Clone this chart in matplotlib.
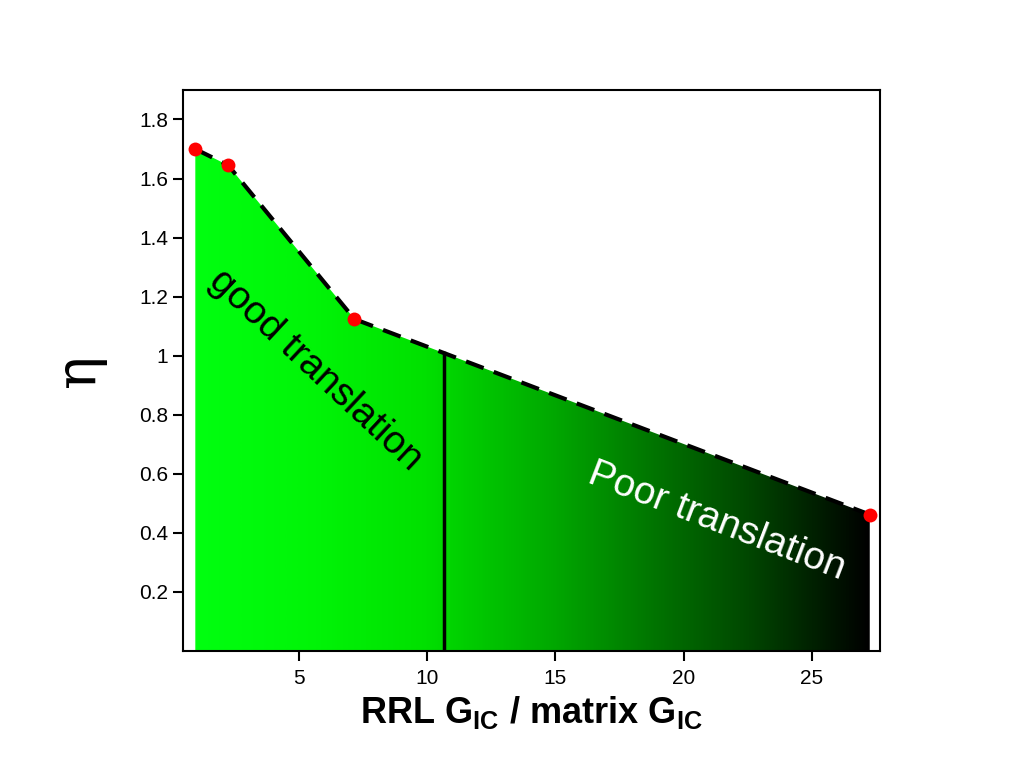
import numpy as np
import matplotlib
matplotlib.use("Agg")
import matplotlib.pyplot as plt
from matplotlib.colors import LinearSegmentedColormap

plt.rcParams['font.family'] = ['Liberation Sans', 'DejaVu Sans']
plt.rcParams['mathtext.fontset'] = 'custom'
plt.rcParams['mathtext.rm'] = 'Liberation Sans'
plt.rcParams['mathtext.bf'] = 'Liberation Sans:bold'

# Data
ratio = [0.98, 2.26, 7.18, 27.25]
eta = [1.70, 1.645, 1.124, 0.462]
boundary_x = 10.65
x_ticks = [5, 10, 15, 20, 25]
y_ticks = [0.2, 0.4, 0.6, 0.8, 1.0, 1.2, 1.4, 1.6, 1.8]
y_ticklabels = ['0.2', '0.4', '0.6', '0.8', '1', '1.2', '1.4', '1.6', '1.8']

fig = plt.figure(figsize=(10.24, 7.83), dpi=100)
ax = fig.add_axes([0.1787, 0.1686, 0.6807, 0.7165])
ax.set_xlim(0.5, 27.65)
ax.set_ylim(0, 1.9)

# gradient fill clipped by polygon
stops = [(0.0, (0, 1.0, 0.063)), (0.17, (0, 0.96, 0.03)), (0.34, (0, 0.88, 0)),
         (0.38, (0, 0.83, 0)), (0.53, (0, 0.66, 0)), (0.67, (0, 0.47, 0)),
         (0.82, (0, 0.28, 0)), (1.0, (0, 0.0, 0))]
cmap = LinearSegmentedColormap.from_list('grn', stops)
poly = ax.fill_between(ratio, eta, 0, color='none', lw=0)
grad = np.linspace(0, 1, 512).reshape(1, -1)
im = ax.imshow(grad, cmap=cmap, aspect='auto', extent=[ratio[0], ratio[-1], 0, max(eta)],
               origin='lower', zorder=1, interpolation='bilinear')
path = poly.get_paths()[0]
im.set_clip_path(path, transform=ax.transData)

# boundary line
eta_b = np.interp(boundary_x, ratio, eta)
ax.plot([boundary_x, boundary_x], [0, eta_b], color='black', lw=2.5, zorder=3)

# dashed curve and points
ax.plot(ratio, eta, color='black', lw=3, dashes=(4.5, 2.6), zorder=4)
ax.plot(ratio, eta, 'o', color='#ff0000', ms=10, mec='none', zorder=5)

ax.text(5.65, 0.95, 'good translation', rotation=-43, fontsize=28, color='black',
        ha='center', va='center', rotation_mode='anchor', zorder=6)
ax.text(21.3, 0.438, 'Poor translation', rotation=-21, fontsize=28, color='white',
        ha='center', va='center', rotation_mode='anchor', zorder=6)

ax.set_xticks(x_ticks)
ax.set_yticks(y_ticks)
ax.set_yticklabels(y_ticklabels)
ax.tick_params(direction='out', length=7, width=1.5, labelsize=15, top=False, right=False)
ax.tick_params(axis='x', pad=6)
for s in ax.spines.values():
    s.set_linewidth(1.5)

ax.set_xlabel(r'RRL G$_{\mathbf{IC}}$ / matrix G$_{\mathbf{IC}}$', fontsize=26, fontweight='bold', labelpad=4)
ax.set_ylabel('η', fontsize=40, family=['DejaVu Serif'], labelpad=24)

fig.savefig('out.png', dpi=100)
